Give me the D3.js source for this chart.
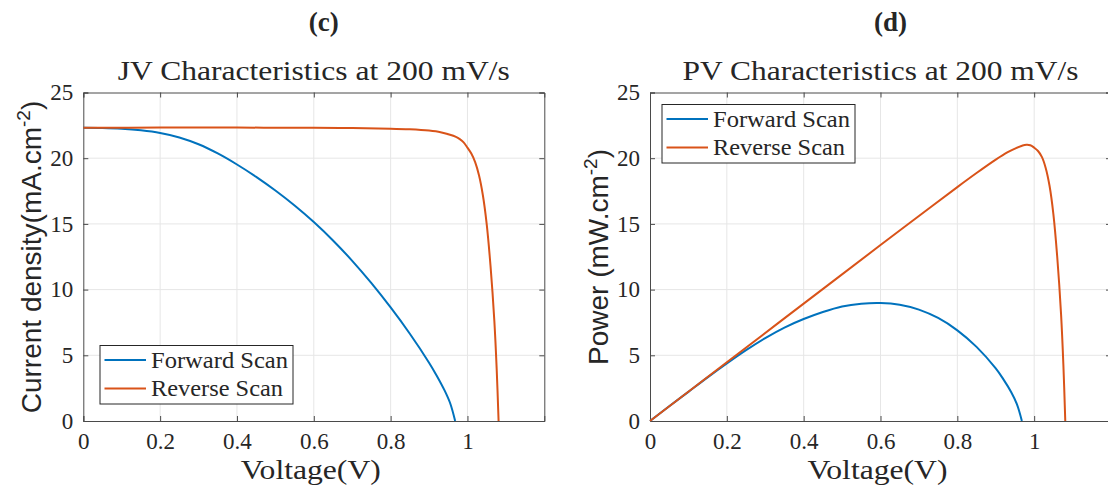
<!DOCTYPE html>
<html>
<head>
<meta charset="utf-8">
<script src="https://cdn.jsdelivr.net/npm/d3@7"></script>
<style>
  html, body { margin: 0; padding: 0; background: #fff; }
  svg { display: block; }
  .serif { font-family: "Liberation Serif", "DejaVu Serif", serif; fill: #262626; }
  .sans { font-family: "Liberation Sans", Arial, sans-serif; fill: #262626; }
</style>
</head>
<body>
<svg id="fig" width="1108" height="496"></svg>
<script>
// ---- data ----
const fwdVoltage = [0, 0.05, 0.1, 0.15, 0.2, 0.25, 0.3, 0.35, 0.4, 0.45, 0.5, 0.55, 0.6, 0.65, 0.7, 0.75, 0.8, 0.85, 0.9, 0.92, 0.94, 0.955, 0.968];
const fwdCurrent = [22.32, 22.30, 22.24, 22.12, 21.92, 21.58, 21.06, 20.36, 19.52, 18.58, 17.54, 16.40, 15.14, 13.74, 12.19, 10.49, 8.64, 6.64, 4.44, 3.45, 2.35, 1.35, 0];
const fwdPower   = [0, 1.12, 2.22, 3.32, 4.38, 5.39, 6.31, 7.11, 7.76, 8.3, 8.72, 8.93, 8.98, 8.85, 8.48, 7.84, 6.9, 5.64, 4.0, 3.17, 2.21, 1.29, 0];

const revVoltage = [0, 0.2, 0.4, 0.6, 0.7, 0.8, 0.85, 0.9, 0.93, 0.95, 0.97, 0.98, 0.99, 1.0, 1.01, 1.02, 1.03, 1.04, 1.05, 1.06, 1.07, 1.076, 1.081];
const revCurrent = [22.32, 22.33, 22.33, 22.31, 22.29, 22.25, 22.2, 22.1, 21.98, 21.82, 21.62, 21.45, 21.2, 20.8, 20.35, 19.7, 18.7, 17.2, 15.0, 11.8, 7.6, 4.0, 0];
const revPower   = [0, 4.47, 8.93, 13.39, 15.6, 17.8, 18.87, 19.89, 20.44, 20.73, 20.97, 21.02, 20.99, 20.8, 20.55, 20.1, 19.26, 17.9, 15.75, 12.5, 8.13, 4.3, 0];

const xTicks = [0, 0.2, 0.4, 0.6, 0.8, 1];
const yTicks = [0, 5, 10, 15, 20, 25];
const seriesNames = ["Forward Scan", "Reverse Scan"];
const seriesColors = ["#0072BD", "#D95319"];

const svg = d3.select("#fig");
svg.append("rect").attr("width", 1108).attr("height", 496).attr("fill", "#fff");

function panel(opts) {
  const x = d3.scaleLinear().domain([0, 1.2]).range([opts.left, opts.left + 461]);
  const y = d3.scaleLinear().domain([0, 25]).range([421, 92.5]);
  const g = svg.append("g");

  // grid
  g.selectAll(".gx").data(xTicks.slice(1)).join("line")
    .attr("x1", d => x(d)).attr("x2", d => x(d))
    .attr("y1", y(0)).attr("y2", y(25))
    .attr("stroke", "#e6e6e6").attr("stroke-width", 1);
  g.selectAll(".gy").data(yTicks.slice(1, -1)).join("line")
    .attr("x1", x(0)).attr("x2", x(1.2))
    .attr("y1", d => y(d)).attr("y2", d => y(d))
    .attr("stroke", "#e6e6e6").attr("stroke-width", 1);

  // axes with inward ticks
  const axB = d3.axisBottom(x).tickValues(xTicks).tickSize(-5).tickPadding(12).tickFormat(d3.format("~g"));
  const axT = d3.axisTop(x).tickValues(xTicks).tickSize(-5).tickFormat("");
  const axL = d3.axisLeft(y).tickValues(yTicks).tickSize(-5).tickPadding(10).tickFormat(d3.format("~g"));
  const axR = d3.axisRight(y).tickValues(yTicks).tickSize(-5).tickFormat("");

  [[axB, `translate(0,${y(0)})`], [axT, `translate(0,${y(25)})`],
   [axL, `translate(${x(0)},0)`], [axR, `translate(${x(1.2)},0)`]].forEach(([ax, tr]) => {
    const a = g.append("g").attr("transform", tr).call(ax);
    a.select(".domain").attr("stroke", "#4a4a4a").attr("stroke-width", 1);
    a.selectAll(".tick line").attr("stroke", "#4a4a4a");
    a.selectAll(".tick text").attr("class", "serif").attr("font-size", 23)
      .attr("font-family", null).attr("fill", "#262626");
  });

  // curves
  const line = d3.line().x(d => x(d[0])).y(d => y(d[1])).curve(d3.curveCatmullRom.alpha(0.5));
  opts.series.forEach((s, i) => {
    g.append("path").datum(d3.zip(s[0], s[1]))
      .attr("d", line).attr("fill", "none")
      .attr("stroke", seriesColors[i]).attr("stroke-width", 2);
  });

  // titles and labels
  const cx = (x(0) + x(1.2)) / 2;
  svg.append("text").attr("class", "serif").attr("x", cx + 10).attr("y", 31)
    .attr("text-anchor", "middle").attr("font-size", 27).attr("font-weight", "bold").text(opts.tag);
  svg.append("text").attr("class", "serif").attr("x", cx).attr("y", 80)
    .attr("text-anchor", "middle").attr("font-size", 27)
    .attr("textLength", opts.titleLen).attr("lengthAdjust", "spacingAndGlyphs").text(opts.title);
  svg.append("text").attr("class", "serif").attr("x", cx - 3).attr("y", 479)
    .attr("text-anchor", "middle").attr("font-size", 27)
    .attr("textLength", 140).attr("lengthAdjust", "spacingAndGlyphs").text("Voltage(V)");

  const yl = svg.append("text").attr("class", "sans")
    .attr("transform", `translate(${opts.ylabelX},${opts.ylabelY}) rotate(-90)`)
    .attr("text-anchor", "middle").attr("font-size", 28);
  yl.append("tspan").text(opts.ylabel);
  yl.append("tspan").attr("font-size", 19).attr("dy", -11).text("-2");
  yl.append("tspan").attr("dy", 11).text(")");

  // legend
  const lg = svg.append("g").attr("transform", `translate(${opts.legX},${opts.legY})`);
  lg.append("rect").attr("width", 193).attr("height", 58.5)
    .attr("fill", "#fff").attr("stroke", "#262626").attr("stroke-width", 1);
  seriesNames.forEach((n, i) => {
    const cy = 14.5 + i * 28.5;
    lg.append("line").attr("x1", 4.5).attr("x2", 46).attr("y1", cy).attr("y2", cy)
      .attr("stroke", seriesColors[i]).attr("stroke-width", 2);
    lg.append("text").attr("class", "serif").attr("x", 51).attr("y", cy + 7.5)
      .attr("font-size", 23)
      .attr("textLength", i === 0 ? 137 : 132).attr("lengthAdjust", "spacingAndGlyphs").text(n);
  });
}

panel({
  left: 83.3, tag: "(c)", title: "JV Characteristics at 200 mV/s", titleLen: 392,
  ylabel: "Current density(mA.cm", ylabelX: 41, ylabelY: 257,
  legX: 100, legY: 345.5,
  series: [[fwdVoltage, fwdCurrent], [revVoltage, revCurrent]]
});
panel({
  left: 650, tag: "(d)", title: "PV Characteristics at 200 mV/s", titleLen: 396,
  ylabel: "Power (mW.cm", ylabelX: 608, ylabelY: 257,
  legX: 662, legY: 104.5,
  series: [[fwdVoltage, fwdPower], [revVoltage, revPower]]
});
</script>
</body>
</html>
